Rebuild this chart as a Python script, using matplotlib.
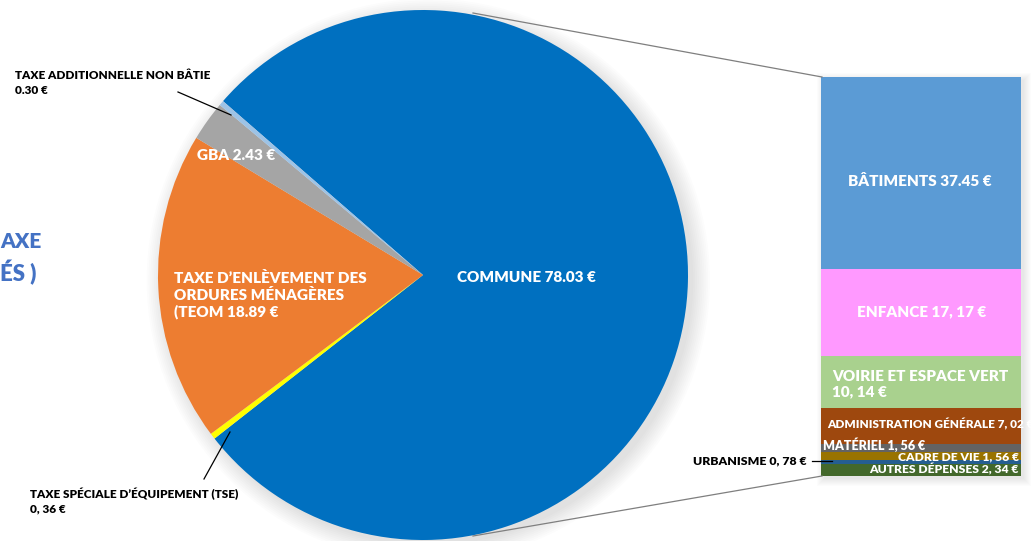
import matplotlib.pyplot as plt
from matplotlib.lines import Line2D
from matplotlib.patches import Circle, Rectangle

W, H = 1033, 541

# camembert : répartition de la taxe foncière (en €)
pie_labels = ['COMMUNE', 'TSE', 'TEOM', 'GBA', 'TAXE ADDITIONNELLE NON BÂTIE']
pie_values = [78.03, 0.36, 18.89, 2.43, 0.30]
pie_colors = ['#0070C0', '#FFFF00', '#ED7D31', '#A5A5A5', '#9DC3E6']

# barre : détail de la part commune (de haut en bas)
bar_labels = ['BÂTIMENTS', 'ENFANCE', 'VOIRIE ET ESPACE VERT', 'ADMINISTRATION GÉNÉRALE',
              'MATÉRIEL', 'CADRE DE VIE', 'URBANISME', 'AUTRES DÉPENSES']
bar_values = [37.45, 17.17, 10.14, 7.02, 1.56, 1.56, 0.78, 2.34]
bar_colors = ['#5B9BD5', '#FF99FF', '#A9D18E', '#9E480E',
              '#636363', '#997300', '#255E91', '#43682B']

plt.rcParams['font.family'] = ['Lato', 'DejaVu Sans']

fig = plt.figure(figsize=(W / 100, H / 100), dpi=100)


def px(x, y):
    # pixels (origine en haut à gauche) -> coordonnées figure
    return x / W, 1 - y / H


def txt(x, y, s, size=8, color='black', **kw):
    fig.text(*px(x, y), s, fontsize=size, color=color, fontweight='heavy',
             va='center', **kw)


def leader(x0, y0, x1, y1, color='black', lw=0.9):
    (a, b), (c, d) = px(x0, y0), px(x1, y1)
    fig.add_artist(Line2D([a, c], [b, d], color=color, lw=lw, transform=fig.transFigure))


# camembert
ax_pie = fig.add_axes([158 / W, 1 / H, 530 / W, 530 / H])
for i in range(10):
    ax_pie.add_patch(Circle((0.02, -0.02), 1 + 0.007 * i, color='black', alpha=0.012,
                            zorder=0, clip_on=False, lw=0))
ax_pie.pie(pie_values, colors=pie_colors, startangle=139, counterclock=False,
           radius=1, wedgeprops=dict(linewidth=0))
ax_pie.set_xlim(-1, 1)
ax_pie.set_ylim(-1, 1)
ax_pie.axis('off')

# barre empilée
ax_bar = fig.add_axes([821 / W, 65 / H, 200 / W, 399 / H])
bottom = 0
for val, col in zip(bar_values[::-1], bar_colors[::-1]):
    ax_bar.bar(0, val, bottom=bottom, width=1, color=col, linewidth=0)
    bottom += val
ax_bar.set_xlim(-0.5, 0.5)
ax_bar.set_ylim(0, sum(bar_values))
ax_bar.axis('off')
for i in range(8):
    fig.add_artist(Rectangle(px(821 + 3 - i, 476 + 3 + i), (200 + 2 * i) / W, (399 + 2 * i) / H,
                             transform=fig.transFigure, color='black', alpha=0.012,
                             lw=0, zorder=-1))

# lignes de liaison
leader(473, 13, 822, 77, color='#7f7f7f', lw=0.9)
leader(473, 536, 822, 476, color='#7f7f7f', lw=0.9)

# titre coupé à gauche (seule la fin est visible)
txt(0, 241, 'AXE', size=15, color='#4472C4')
txt(0, 273, 'ÉS )', size=16, color='#4472C4')

# étiquettes du camembert
txt(457, 278, 'COMMUNE 78.03 €', size=11, color='white')
txt(197, 156, 'GBA 2.43 €', size=11, color='white')
txt(174, 295, "TAXE D’ENLÈVEMENT DES\nORDURES MÉNAGÈRES\n(TEOM 18.89 €", size=11,
    color='white', linespacing=1.2)
txt(15, 83, 'TAXE ADDITIONNELLE NON BÂTIE\n0.30 €', size=8.5, linespacing=1.45)
leader(178, 92, 231, 115)
txt(30, 501, "TAXE SPÉCIALE D’ÉQUIPEMENT (TSE)\n0, 36 €", size=8.5, linespacing=1.45)
leader(204, 479, 230, 432)

# étiquettes de la barre
txt(920, 181, 'BÂTIMENTS 37.45 €', size=11, color='white', ha='center')
txt(922, 312, 'ENFANCE 17, 17 €', size=11, color='white', ha='center')
txt(832, 384, 'VOIRIE ET ESPACE VERT\n10, 14 €', size=11, color='white', linespacing=1.2)
txt(827, 424, 'ADMINISTRATION GÉNÉRALE 7, 02 €', size=8.5, color='white')
txt(823, 445, 'MATÉRIEL 1, 56 €', size=9, color='white')
txt(1019, 457, 'CADRE DE VIE 1, 56 €', size=8.7, color='white', ha='right')
txt(1019, 469, 'AUTRES DÉPENSES 2, 34 €', size=8.7, color='white', ha='right')
txt(693, 461, 'URBANISME 0, 78 €', size=8.8)
leader(812, 461, 832, 461)

fig.savefig('out.png', dpi=100)
